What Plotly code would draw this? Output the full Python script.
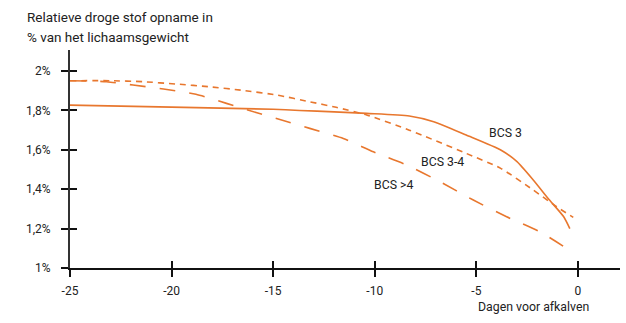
import plotly.graph_objects as go

# Data (days before calving, relative DM intake in % of body weight)
bcs3_x = [-25, -20, -15, -13.7, -12, -10.4, -8.3, -7.1, -5.5, -3.8, -3.0, -2.2, -1.4, -0.7, -0.4]
bcs3_y = [1.827, 1.817, 1.806, 1.80, 1.793, 1.785, 1.772, 1.743, 1.675, 1.599, 1.540, 1.447, 1.345, 1.26, 1.20]

bcs34_x = [-25, -23.0, -21.4, -19.75, -18.1, -16.5, -14.8, -13.2, -11.9, -10.4, -8.3, -5.5, -3.8, -2.2, -1.05, -0.23]
bcs34_y = [1.951, 1.951, 1.946, 1.934, 1.920, 1.902, 1.878, 1.844, 1.816, 1.777, 1.70, 1.582, 1.506, 1.396, 1.311, 1.257]

bcs4_x = [-25, -23.2, -21.9, -20.4, -18.8, -17.3, -15.8, -14.3, -13.2, -11.55, -10.07, -8.43, -6.79, -5.15, -3.51, -1.87, -0.23]
bcs4_y = [1.951, 1.946, 1.929, 1.909, 1.882, 1.836, 1.788, 1.743, 1.709, 1.658, 1.590, 1.523, 1.438, 1.345, 1.260, 1.184, 1.078]

x_ticks = [-25, -20, -15, -10, -5, 0]
x_ticktext = ["-25", "-20", "-15", "-10", "-5", "0"]
y_ticks = [1.0, 1.2, 1.4, 1.6, 1.8, 2.0]
y_ticktext = ["1%", "1,2%", "1,4%", "1,6%", "1,8%", "2%"]

series_names = ["BCS 3", "BCS 3-4", "BCS >4"]
title_lines = ["Relatieve droge stof opname in", "% van het lichaamsgewicht"]

ORANGE = "#E8772E"
FONT = "Roboto"
TXT = "#222222"

fig = go.Figure()
fig.add_trace(go.Scatter(x=bcs3_x, y=bcs3_y, mode="lines", name=series_names[0],
                         line=dict(color=ORANGE, width=1.6, shape="spline", smoothing=0.6)))
fig.add_trace(go.Scatter(x=bcs34_x, y=bcs34_y, mode="lines", name=series_names[1],
                         line=dict(color=ORANGE, width=1.6, dash="6px,5px", shape="spline", smoothing=0.6)))
fig.add_trace(go.Scatter(x=bcs4_x, y=bcs4_y, mode="lines", name=series_names[2],
                         line=dict(color=ORANGE, width=1.6, dash="16px,14px", shape="spline", smoothing=0.6)))
# invisible trace for overlay axes (crossing ticks)
fig.add_trace(go.Scatter(x=[None], y=[None], xaxis="x2", yaxis="y2", showlegend=False, hoverinfo="skip"))

xr = [-25, 2.07]
yr = [1.0, 2.107]

fig.update_layout(
    width=626, height=323,
    margin=dict(l=70, r=6, t=50, b=55),
    paper_bgcolor="white", plot_bgcolor="white",
    showlegend=False,
    font=dict(family=FONT, size=12, color=TXT),
    xaxis=dict(range=xr, tickvals=x_ticks, ticktext=x_ticktext, ticks="outside", ticklen=7,
               tickwidth=1.5, tickcolor="#111", showline=True, linecolor="#111", linewidth=1.5,
               showgrid=False, zeroline=False, ticklabelstandoff=4,
               tickfont=dict(family=FONT, size=12, color=TXT)),
    yaxis=dict(range=yr, tickvals=y_ticks, ticktext=y_ticktext, ticks="outside", ticklen=7,
               tickwidth=1.5, tickcolor="#111", showline=True, linecolor="#333", linewidth=2,
               showgrid=False, zeroline=False, ticklabelstandoff=8,
               tickfont=dict(family=FONT, size=12, color=TXT)),
    xaxis2=dict(range=xr, overlaying="x", tickvals=x_ticks, ticks="inside", ticklen=7,
                tickwidth=1.5, tickcolor="#111", showticklabels=False, showgrid=False,
                zeroline=False, showline=False, side="bottom"),
    yaxis2=dict(range=yr, overlaying="y", tickvals=y_ticks, ticks="inside", ticklen=7,
                tickwidth=1.5, tickcolor="#111", showticklabels=False, showgrid=False,
                zeroline=False, showline=False, side="left"),
)

# title lines (pixel positions converted to paper coords)
for line, py in zip(title_lines, [17, 37]):
    fig.add_annotation(text=line, xref="paper", yref="paper", x=(25 - 70) / 550,
                       y=(268 - py) / 218, xanchor="left", yanchor="middle", showarrow=False,
                       font=dict(family=FONT, size=13.5, color=TXT))

fig.add_annotation(text="Dagen voor afkalven", xref="paper", yref="paper",
                   x=(533 - 70) / 550, y=(268 - 307) / 218, xanchor="center", yanchor="middle",
                   showarrow=False, font=dict(family=FONT, size=12.3, color=TXT))

label_pos = [(-3.59, 1.685), (-6.69, 1.538), (-9.06, 1.421)]
for name, (lx, ly) in zip(series_names, label_pos):
    fig.add_annotation(text=name, x=lx, y=ly, xref="x", yref="y", showarrow=False,
                       xanchor="center", yanchor="middle", font=dict(family=FONT, size=12.3, color=TXT))

fig.write_html("out.html")
